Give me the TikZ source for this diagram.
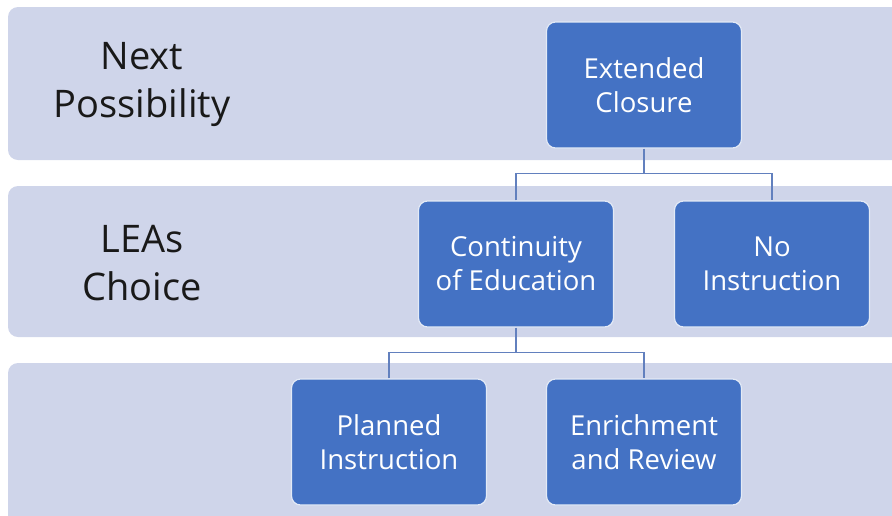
\documentclass[tikz,border=0pt]{standalone}
\usepackage{fontspec}
\setmainfont{Open Sans}
\usepackage{tikz}
\usetikzlibrary{positioning, calc}

\definecolor{bandcol}{RGB}{207,213,234}
\definecolor{boxcol}{RGB}{68,114,196}
\definecolor{linkcol}{RGB}{98,128,190}

\begin{document}
\begin{tikzpicture}[x=1pt, y=-1pt,
    band/.style={fill=bandcol, rounded corners=10pt},
    stage/.style={draw=white!85!boxcol, line width=1.2pt, fill=boxcol, rounded corners=9pt,
        minimum width=195pt, minimum height=126pt, align=center, text=white,
        font=\fontsize{27.5}{34}\selectfont},
    lvl/.style={align=center, text=black!90, font=\fontsize{38}{48}\selectfont},
    link/.style={draw=linkcol, line width=1.6pt}]

    \useasboundingbox (0,0) rectangle (892,515);
    \clip (0,0) rectangle (892,515);

    % Bands
    \fill[band] (8,7) rectangle (910,160);
    \fill[band] (8,186) rectangle (910,337);
    \fill[band] (8,363) rectangle (910,540);

    % Row labels
    \node[lvl] (next) at (142,84) {Next\\Possibility};
    \node[lvl] (lea) at (142,263) {LEAs\\Choice};

    % Boxes
    \node[stage] (ext) at (644,85) {Extended\\Closure};
    \node[stage] (cont) at (516,264) {Continuity\\of Education};
    \node[stage] (noins) at (772,264) {No\\Instruction};
    \node[stage] (plan) at (389,442) {Planned\\Instruction};
    \node[stage] (enr) at (644,442) {Enrichment\\and Review};

    % Connectors
    \draw[link] (ext.south) -- ++(0,25) coordinate (j1);
    \draw[link] (cont.north) |- (j1) -| (noins.north);
    \draw[link] (cont.south) -- ++(0,25) coordinate (j2);
    \draw[link] (plan.north) |- (j2) -| (enr.north);
\end{tikzpicture}
\end{document}
